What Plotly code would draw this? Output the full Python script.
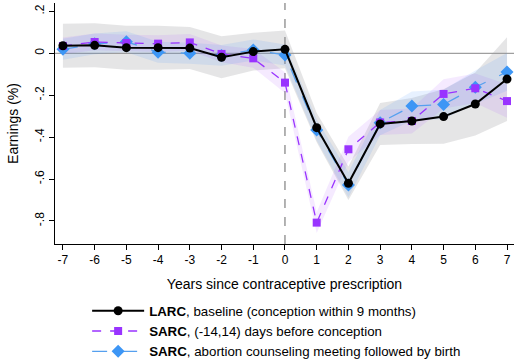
import plotly.graph_objects as go

years = list(range(-7, 8))
larc = [0.036, 0.038, 0.027, 0.027, 0.025, -0.019, 0.008, 0.019, -0.355, -0.62, -0.337, -0.323, -0.302, -0.242, -0.123]
larc_ci = [0.105, 0.105, 0.105, 0.105, 0.1, 0.1, 0.09, 0.09, 0.07, 0.08, 0.1, 0.11, 0.13, 0.15, 0.2]
sarc_conc = [0.035, 0.054, 0.049, 0.046, 0.052, -0.003, -0.024, -0.14, -0.808, -0.458, -0.33, -0.323, -0.194, -0.167, -0.228]
sarc_conc_ci = [0.04, 0.04, 0.04, 0.04, 0.04, 0.04, 0.045, 0.05, 0.05, 0.06, 0.06, 0.06, 0.07, 0.07, 0.08]
sarc_abort = [0.019, 0.045, 0.055, 0.005, 0.0, -0.01, 0.016, -0.008, -0.366, -0.628, -0.331, -0.252, -0.244, -0.162, -0.089]
sarc_abort_ci = [0.05, 0.05, 0.05, 0.05, 0.05, 0.05, 0.05, 0.05, 0.05, 0.06, 0.06, 0.07, 0.07, 0.08, 0.09]
xticks = list(range(-7, 8))
yticks = [0.2, 0.0, -0.2, -0.4, -0.6, -0.8]
yticklabels = [".2", "0", "-.2", "-.4", "-.6", "-.8"]

fig = go.Figure()

def band(vals, ci, color):
    up = [v + c for v, c in zip(vals, ci)]
    lo = [v - c for v, c in zip(vals, ci)]
    fig.add_trace(go.Scatter(x=years + years[::-1], y=up + lo[::-1], fill="toself",
                             fillcolor=color, line=dict(width=0), mode="lines",
                             showlegend=False, hoverinfo="skip"))

band(larc, larc_ci, "rgba(150,150,155,0.25)")
band(sarc_conc, sarc_conc_ci, "rgba(170,80,255,0.12)")
band(sarc_abort, sarc_abort_ci, "rgba(60,140,255,0.12)")

fig.add_trace(go.Scatter(x=years, y=sarc_abort, mode="lines+markers",
                         name="<b>SARC</b>, abortion counseling meeting followed by birth",
                         line=dict(color="#55a0ef", width=1.3, dash="longdash"),
                         marker=dict(symbol="diamond", size=10, color="#3d96f5"),
                         cliponaxis=False, legendrank=3))
fig.add_trace(go.Scatter(x=years, y=sarc_conc, mode="lines+markers",
                         name="<b>SARC</b>, (-14,14) days before conception",
                         line=dict(color="#9933ff", width=1.3, dash="dash"),
                         marker=dict(symbol="square", size=8, color="#9933ff"),
                         cliponaxis=False, legendrank=2))
fig.add_trace(go.Scatter(x=years, y=larc, mode="lines+markers",
                         name="<b>LARC</b>, baseline (conception within 9 months)",
                         line=dict(color="black", width=2),
                         marker=dict(symbol="circle", size=9, color="black"),
                         cliponaxis=False, legendrank=1))

fig.add_shape(type="line", xref="paper", x0=0, x1=1, yref="y", y0=0, y1=0,
              line=dict(color="#888888", width=1), layer="below")
fig.add_shape(type="line", xref="x", x0=0, x1=0, yref="paper", y0=0, y1=1,
              line=dict(color="#666666", width=1, dash="dash"), layer="below")

fig.update_layout(
    width=514, height=364,
    margin=dict(l=55, r=0, t=3, b=120, autoexpand=False),
    plot_bgcolor="white", paper_bgcolor="white",
    font=dict(family="Liberation Sans, Arial, sans-serif", size=12, color="black"),
    showlegend=True,
    legend=dict(x=0.07, y=-0.214, xanchor="left", yanchor="top",
                font=dict(size=13.3), tracegroupgap=0, itemwidth=52,
                bgcolor="rgba(0,0,0,0)"),
    xaxis=dict(range=[-7.25, 7.22], tickvals=xticks, ticktext=[str(t) for t in xticks],
               showgrid=False, zeroline=False, showline=True, linecolor="black", linewidth=1,
               ticks="outside", ticklen=5, tickcolor="black", automargin=False,
               title=dict(text="Years since contraceptive prescription", standoff=12)),
    yaxis=dict(range=[-0.91, 0.24], tickvals=yticks, ticktext=yticklabels, tickangle=-90,
               showgrid=False, zeroline=False, showline=True, linecolor="black", linewidth=1,
               ticks="outside", ticklen=5, tickcolor="black", automargin=False,
               title=dict(text="Earnings (%)", standoff=11)),
)

fig.write_html("out.html", config={"displayModeBar": False},
               post_script="document.body.style.margin='0';document.body.style.overflow='hidden';")
